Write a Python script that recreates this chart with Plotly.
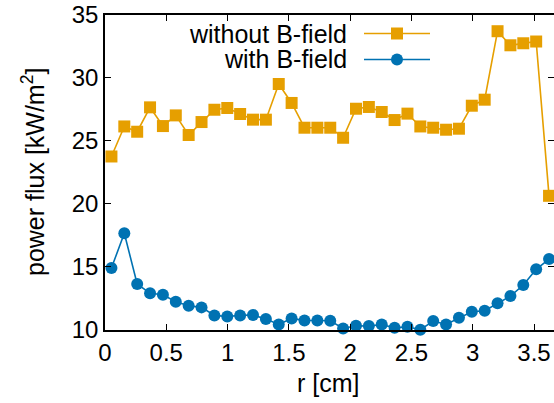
import plotly.graph_objects as go

r_cm = [0.0525, 0.1575, 0.2625, 0.3675, 0.4725, 0.5775, 0.6825, 0.7875, 0.8925, 0.9975,
        1.1025, 1.2075, 1.3125, 1.4175, 1.5225, 1.6275, 1.7325, 1.8375, 1.9425, 2.0475,
        2.1525, 2.2575, 2.3625, 2.4675, 2.5725, 2.6775, 2.7825, 2.8875, 2.9925, 3.0975,
        3.2025, 3.3075, 3.4125, 3.5175, 3.6225]

flux_without = [23.74, 26.13, 25.71, 27.65, 26.16, 27.01, 25.45, 26.48, 27.46, 27.60,
                27.12, 26.67, 26.67, 29.51, 28.00, 26.03, 26.03, 26.03, 25.23, 27.54,
                27.68, 27.28, 26.64, 27.15, 26.13, 26.03, 25.87, 25.95, 27.78, 28.26,
                33.71, 32.59, 32.75, 32.89, 20.61]

flux_with = [14.86, 17.63, 13.59, 12.85, 12.74, 12.18, 11.86, 11.73, 11.09, 11.01,
             11.09, 11.12, 10.80, 10.37, 10.85, 10.69, 10.69, 10.67, 10.05, 10.27,
             10.24, 10.37, 10.10, 10.19, 9.95, 10.64, 10.37, 10.90, 11.38, 11.46,
             12.05, 12.63, 13.51, 14.76, 15.58]

x_ticks = [0, 0.5, 1, 1.5, 2, 2.5, 3, 3.5]
x_tick_labels = ["0", "0.5", "1", "1.5", "2", "2.5", "3", "3.5"]
y_ticks = [10, 15, 20, 25, 30, 35]

series_names = ["without B-field", "with B-field"]
x_title = "r [cm]"
y_title = "power flux [kW/m<sup>2</sup>]"
orange = "#E69F00"
blue = "#0072B2"
FONT = "Liberation Sans, Arial, sans-serif"

W, H = 554, 403
L, R, T, B = 105, 0, 15, 73

fig = go.Figure()
fig.add_trace(go.Scatter(x=r_cm, y=flux_without, mode="lines+markers", name=series_names[0],
                         line=dict(color=orange, width=1.6),
                         marker=dict(symbol="square", size=12, color=orange),
                         showlegend=False, cliponaxis=False))
fig.add_trace(go.Scatter(x=r_cm, y=flux_with, mode="lines+markers", name=series_names[1],
                         line=dict(color=blue, width=1.6),
                         marker=dict(symbol="circle", size=12, color=blue),
                         showlegend=False, cliponaxis=False))

# legend samples (gnuplot style: text right-aligned, sample line with marker in its middle)
def px_x(p):
    return (p - L) / (W - L - R)

def px_y(p):
    return 1 - (p - T) / (H - T - B)

leg_rows = [33.5, 59.5]
for name, col, sym, ly in [(series_names[0], orange, "square", leg_rows[0]),
                            (series_names[1], blue, "circle", leg_rows[1])]:
    yy = px_y(ly)
    fig.add_trace(go.Scatter(x=[px_x(364), px_x(430)], y=[yy, yy], mode="lines",
                             line=dict(color=col, width=1.6), xaxis="x2", yaxis="y2",
                             showlegend=False, hoverinfo="skip"))
    fig.add_trace(go.Scatter(x=[px_x(397)], y=[yy], mode="markers",
                             marker=dict(symbol=sym, size=12, color=col), xaxis="x2", yaxis="y2",
                             showlegend=False, hoverinfo="skip"))
    fig.add_annotation(x=px_x(349), y=yy, xref="paper", yref="paper", text=name, showarrow=False,
                       xanchor="right", yanchor="middle", xshift=0,
                       font=dict(size=25, color="black", family=FONT))

fig.add_annotation(x=px_x(328), y=px_y(383), xref="paper", yref="paper", text=x_title,
                   showarrow=False, xanchor="center", yanchor="middle",
                   font=dict(size=25, color="black", family=FONT))
fig.add_annotation(x=px_x(33), y=px_y(172), xref="paper", yref="paper", text=y_title,
                   showarrow=False, xanchor="center", yanchor="middle", textangle=-90,
                   font=dict(size=25, color="black", family=FONT))

axis_common = dict(showline=True, linecolor="black", linewidth=1.5, mirror="ticks",
                   ticks="inside", ticklen=6, tickwidth=1, tickcolor="black",
                   showgrid=False, zeroline=False, automargin=False,
                   tickfont=dict(size=24, color="black", family=FONT))

fig.update_layout(
    width=W, height=H,
    margin=dict(l=L, r=R, t=T, b=B),
    paper_bgcolor="white", plot_bgcolor="white",
    font=dict(family=FONT, size=24, color="black"),
    xaxis=dict(range=[0, 3.663], tickvals=x_ticks, ticktext=x_tick_labels, **axis_common),
    yaxis=dict(range=[9.93, 35], tickvals=y_ticks, **axis_common),
    xaxis2=dict(range=[0, 1], overlaying="x", visible=False, anchor="y2", automargin=False),
    yaxis2=dict(range=[0, 1], overlaying="y", visible=False, anchor="x2", automargin=False),
)

fig.write_html("out.html", config={"displayModeBar": False},
               post_script="document.body.style.margin='0';document.body.style.overflow='hidden';")
